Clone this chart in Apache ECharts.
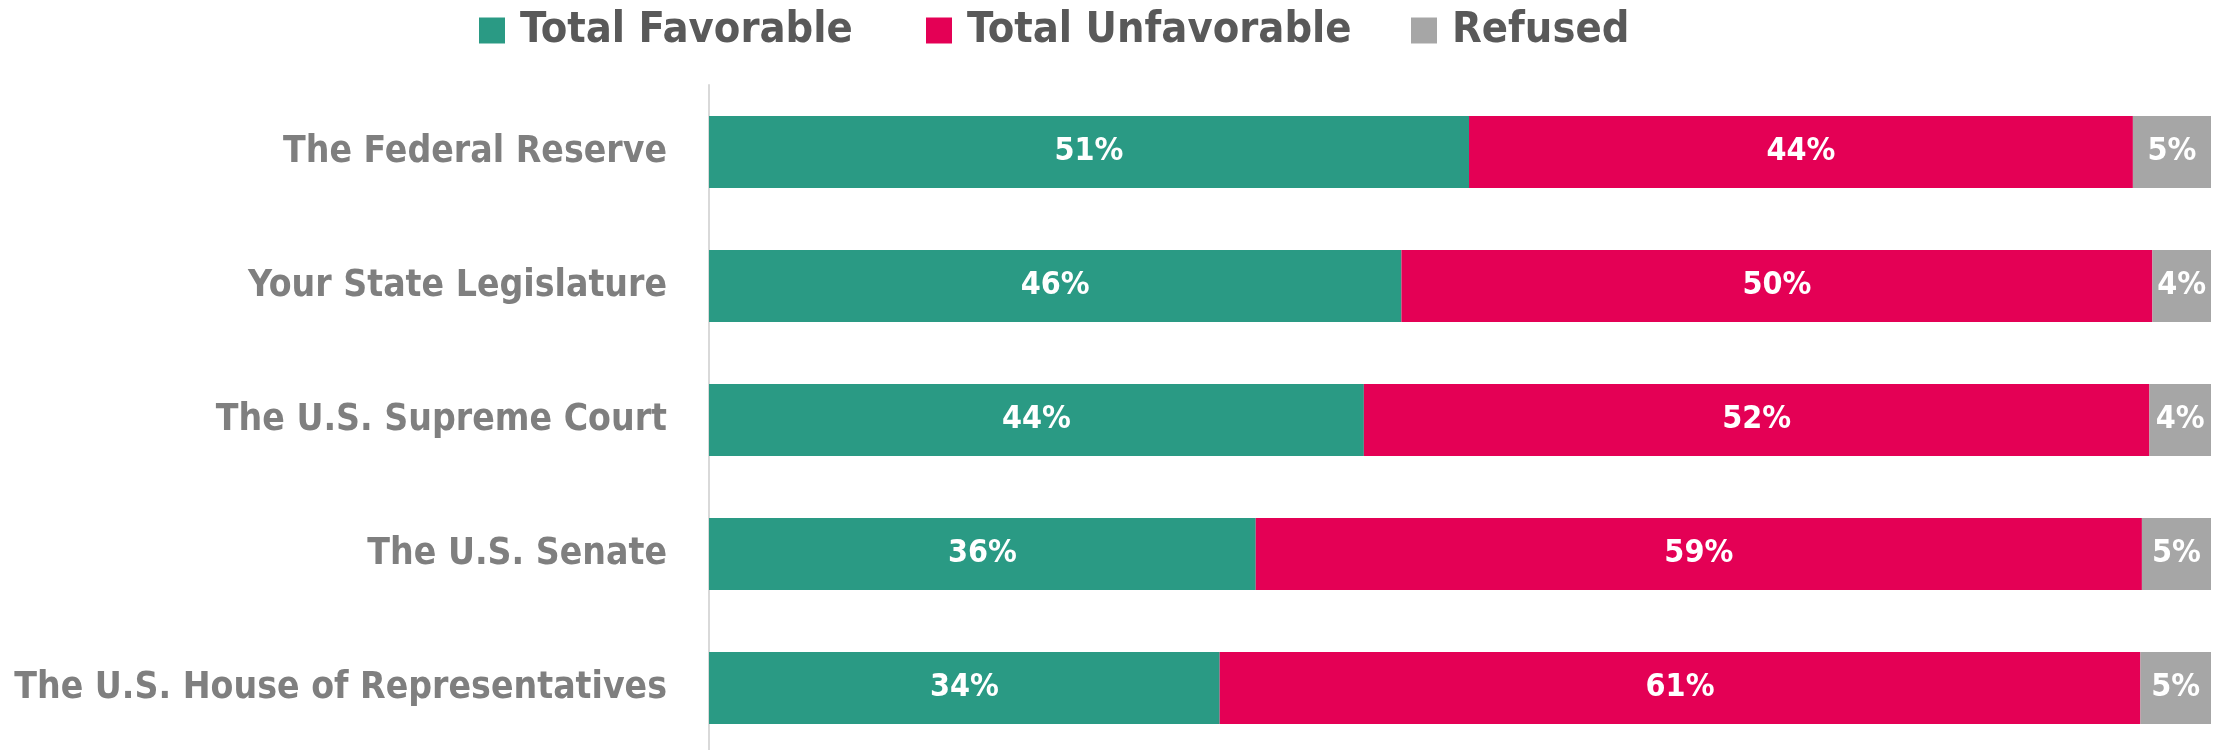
<!DOCTYPE html>
<html>
<head>
<meta charset="utf-8">
<title>Favorability</title>
<script src="https://cdn.jsdelivr.net/npm/echarts@6/dist/echarts.min.js"></script>
<style>
    html, body { margin: 0; padding: 0; background: #fff; }
    #main { width: 2224px; height: 750px; }
</style>
</head>
<body>
<div id="main"></div>
<script>
// data (shares in %)
var categories = ['The Federal Reserve', 'Your State Legislature', 'The U.S. Supreme Court', 'The U.S. Senate', 'The U.S. House of Representatives'];
var favorable = [50.6, 46.1, 43.6, 36.4, 34.0];
var unfavorable = [44.2, 50.0, 52.3, 59.0, 61.3];
var refused = [5.2, 3.9, 4.1, 4.7, 4.7];

var seriesNames = ['Total Favorable', 'Total Unfavorable', 'Refused'];
var colors = ['#2a9a84', '#e40055', '#a6a6a6'];
var legendLeft = [474, 921, 1406];

var font = "'DejaVu Sans Condensed', 'Liberation Sans Narrow', sans-serif";

var chart = echarts.init(document.getElementById('main'), null, {renderer: 'canvas'});

// 每个图例单独放
var legends = seriesNames.map(function (name, i) {
    return {
        data: [name],
        left: legendLeft[i],
        top: 4,
        icon: 'rect',
        itemWidth: 26,
        itemHeight: 26,
        selectedMode: false,
        textStyle: {
            color: '#595959',
            fontSize: 43,
            fontWeight: 'bold',
            fontFamily: font,
            lineHeight: 26,
            padding: [0, 0, 0, 10]
        }
    };
});

function makeSeries(name, values, i) {
    return {
        name: name,
        type: 'bar',
        stack: 'total',
        barWidth: 72,
        data: values,
        itemStyle: {color: colors[i]},
        label: {
            show: true,
            position: 'inside',
            color: '#fff',
            fontSize: 32,
            fontWeight: 'bold',
            fontFamily: font,
            formatter: function (p) {
                return Math.round(p.value) + '%';
            }
        }
    };
}

chart.setOption({
    animation: false,
    legend: legends,
    grid: {
        left: 709,
        right: 13,
        top: 85,
        height: 670,
        containLabel: false,
        outerBoundsMode: 'none'
    },
    xAxis: {
        type: 'value',
        min: 0,
        max: 100,
        show: false
    },
    yAxis: {
        type: 'category',
        data: categories,
        inverse: true,
        offset: 1,
        axisLine: {show: true, lineStyle: {color: '#d9d9d9', width: 2}},
        axisTick: {show: false},
        axisLabel: {
            margin: 41,
            color: '#7f7f7f',
            fontSize: 37,
            fontWeight: 'bold',
            fontFamily: font
        }
    },
    series: [
        makeSeries(seriesNames[0], favorable, 0),
        makeSeries(seriesNames[1], unfavorable, 1),
        makeSeries(seriesNames[2], refused, 2)
    ]
});
</script>
</body>
</html>
